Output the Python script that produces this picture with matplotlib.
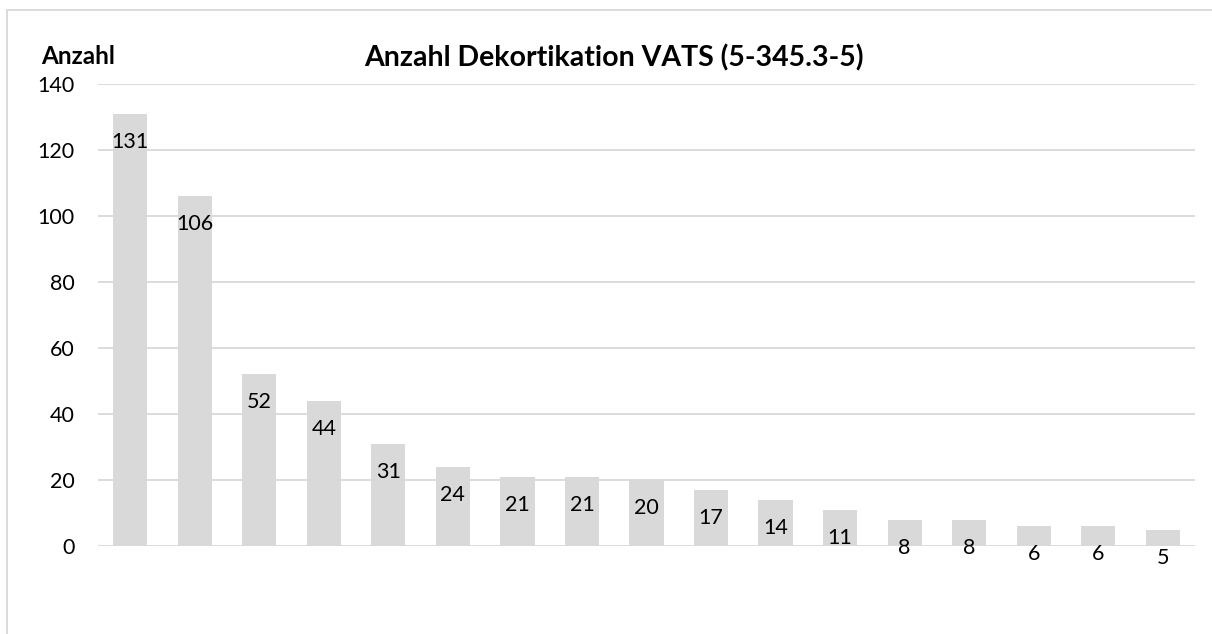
import matplotlib.pyplot as plt
from matplotlib.patches import Rectangle

values = [131, 106, 52, 44, 31, 24, 21, 21, 20, 17, 14, 11, 8, 8, 6, 6, 5]
yticks = [0, 20, 40, 60, 80, 100, 120, 140]
title = "Anzahl Dekortikation VATS (5-345.3-5)"
ylabel = "Anzahl"

plt.rcParams["font.family"] = ["Lato", "DejaVu Sans"]

W, H = 1212, 634
fig = plt.figure(figsize=(W / 100, H / 100), dpi=100)
ax = fig.add_axes([98 / W, 1 - 546 / H, (1195 - 98) / W, (546 - 84) / H])

x = list(range(len(values)))
ax.bar(x, values, width=0.53, color="#d9d9d9", zorder=2)
for xi, v in zip(x, values):
    ax.annotate(str(v), (xi, v), xytext=(0, -28), textcoords="offset pixels",
                ha="center", va="center", fontsize=15.5, color="black", zorder=3)

ax.set_xlim(-0.5, len(values) - 0.5)
ax.set_ylim(0, 140)
ax.set_yticks(yticks)
ax.set_xticks([])
ax.yaxis.grid(True, color="#d9d9d9", linewidth=1.3, zorder=0)
for s in ax.spines.values():
    s.set_visible(False)
ax.tick_params(axis="y", length=0, pad=17, labelsize=15.5)

fig.text(614 / W, 1 - 58 / H, title, ha="center", va="center",
         fontsize=20.5, fontweight="bold")
fig.text(41 / W, 1 - 57 / H, ylabel, ha="left", va="center",
         fontsize=17.5, fontweight="bold")

fig.patches.append(Rectangle((7 / W, -0.01), 1.1, 1 - 10 / H + 0.01,
                             transform=fig.transFigure, fill=False,
                             edgecolor="#d9d9d9", linewidth=1.3))

fig.savefig("out.png", dpi=100)
